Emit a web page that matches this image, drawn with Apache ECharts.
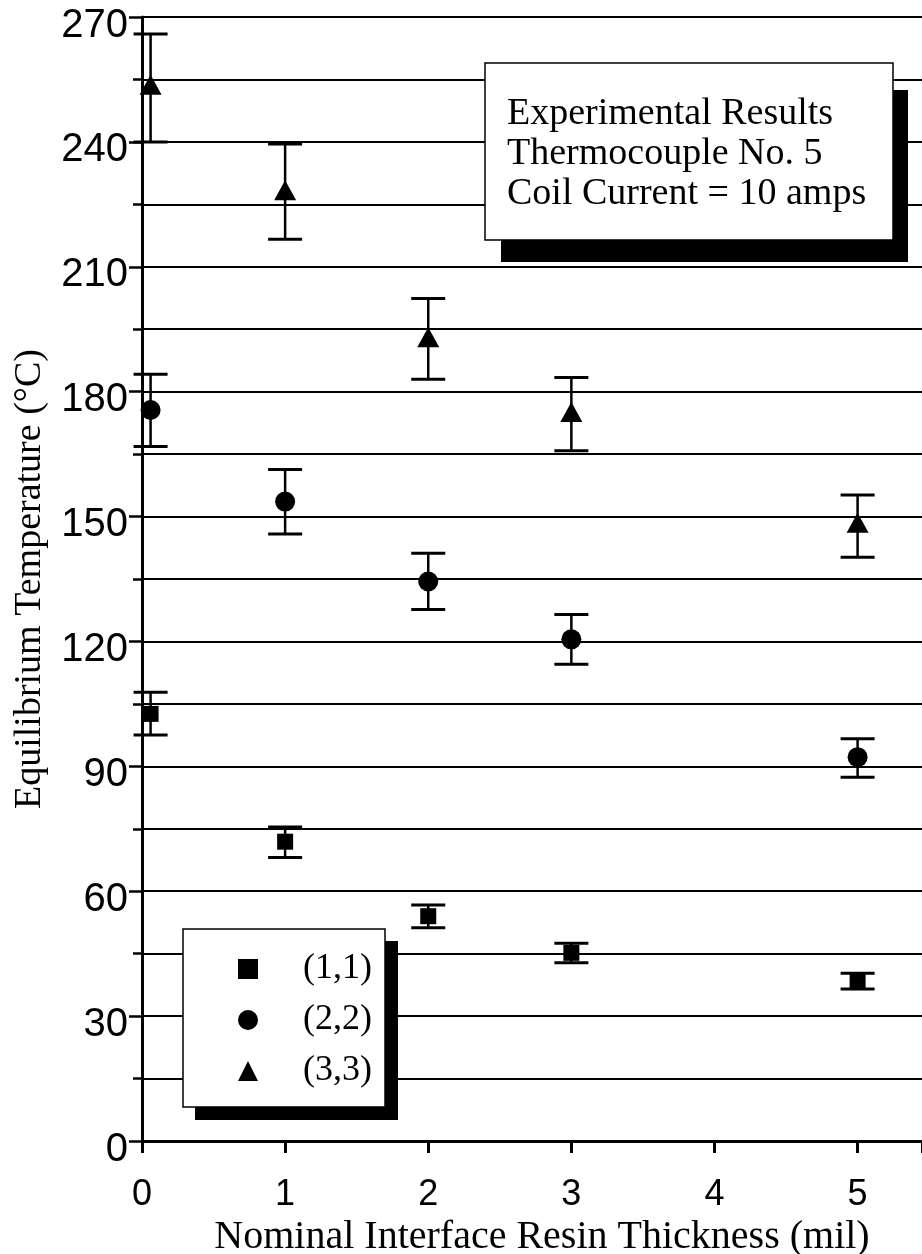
<!DOCTYPE html>
<html>
<head>
<meta charset="utf-8">
<script src="https://cdn.jsdelivr.net/npm/echarts@6/dist/echarts.min.js"></script>
<style>
  html, body { margin: 0; padding: 0; background: #fff; }
  #chart { width: 922px; height: 1254px; }
</style>
</head>
<body>
<div id="chart"></div>
<script>
// resin thickness (mil) - first points sit just right of zero
const thickness = [0.06, 1, 2, 3, 5]

// (1,1) squares
const sqMean = [102.6, 71.9, 54.0, 45.2, 38.4]
const sqLow  = [97.5, 68.1, 51.2, 42.8, 36.5]
const sqHigh = [107.8, 75.4, 56.7, 47.5, 40.3]

// (2,2) circles
const ciMean = [175.6, 153.6, 134.4, 120.5, 92.2]
const ciLow  = [166.8, 145.8, 127.7, 114.5, 87.4]
const ciHigh = [184.2, 161.3, 141.2, 126.5, 96.6]

// (3,3) triangles
const trMean = [253.7, 228.4, 193.1, 175.1, 148.5]
const trLow  = [240.0, 216.6, 183.0, 165.8, 140.2]
const trHigh = [265.9, 239.5, 202.4, 183.4, 155.2]

const xTicks = [0, 1, 2, 3, 4, 5]
const yTicks = [0, 30, 60, 90, 120, 150, 180, 210, 240, 270]

const serif = '"Liberation Serif", "Times New Roman", serif'
const sans = '"Liberation Sans", Arial, Helvetica, sans-serif'

const pts = (ys) => thickness.map((x, i) => [x, ys[i]])
const bars = (lo, hi) => thickness.map((x, i) => [x, lo[i], hi[i]])

const errorBar = (name, lo, hi) => ({
  name: name,
  type: 'custom',
  silent: true,
  data: bars(lo, hi),
  encode: { x: 0, y: [1, 2] },
  renderItem: (params, api) => {
    const top = api.coord([api.value(0), api.value(2)])
    const bot = api.coord([api.value(0), api.value(1)])
    const half = 17
    const st = { stroke: '#000', lineWidth: 3 }
    return {
      type: 'group',
      children: [
        { type: 'line', shape: { x1: top[0], y1: top[1], x2: bot[0], y2: bot[1] }, style: { stroke: '#000', lineWidth: 2.5 } },
        { type: 'line', shape: { x1: top[0] - half, y1: top[1], x2: top[0] + half, y2: top[1] }, style: st },
        { type: 'line', shape: { x1: bot[0] - half, y1: bot[1], x2: bot[0] + half, y2: bot[1] }, style: st }
      ]
    }
  },
  z: 3
})

// box with a hard drop shadow
const shadowBox = (x, y, w, h, dx1, dy1, dx2, dy2) => [
  { type: 'rect', z: 10, silent: true, shape: { x: x + dx1, y: y + dy1, width: w - dx1 + dx2, height: h - dy1 + dy2 }, style: { fill: '#000' } },
  { type: 'rect', z: 11, silent: true, shape: { x: x, y: y, width: w, height: h }, style: { fill: '#fff', stroke: '#000', lineWidth: 1.5 } }
]

let mychart = echarts.init(document.getElementById('chart'))
mychart.setOption({
  animation: false,
  backgroundColor: '#fff',
  color: ['#000'],
  grid: { left: 142, right: 0, top: 17, bottom: 113, containLabel: false, outerBoundsMode: 'none' },
  graphic: [
    ...shadowBox(485, 63, 408, 177, 16, 27, 15, 22),
    ...shadowBox(183, 929, 202, 178, 12, 12, 13, 13)
  ],
  title: {
    text: 'Experimental Results\nThermocouple No. 5\nCoil Current = 10 amps',
    left: 507,
    top: 94,
    padding: 0,
    z: 20,
    textStyle: { fontFamily: serif, fontSize: 38, fontWeight: 'normal', color: '#000', lineHeight: 40 }
  },
  legend: {
    orient: 'vertical',
    left: 183,
    top: 951,
    z: 20,
    padding: [0, 13, 0, 55],
    itemWidth: 20,
    itemHeight: 20,
    itemGap: 15,
    data: [
      { name: '(1,1)', icon: 'rect' },
      { name: '(2,2)', icon: 'circle' },
      { name: '(3,3)', icon: 'triangle' }
    ],
    textStyle: { fontFamily: serif, fontSize: 36, color: '#000', lineHeight: 20, padding: [0, 0, 0, 40] }
  },
  xAxis: {
    type: 'value',
    min: 0,
    max: 5.45,
    interval: 1,
    name: 'Nominal Interface Resin Thickness (mil)',
    nameLocation: 'middle',
    nameGap: 67,
    nameTextStyle: { fontFamily: serif, fontSize: 40, color: '#000', padding: [0, 0, 0, 20] },
    axisLine: { show: true, lineStyle: { color: '#000', width: 3 } },
    axisTick: { show: true, inside: false, length: 12, lineStyle: { color: '#000', width: 3 } },
    axisLabel: {
      fontFamily: sans, fontSize: 36, color: '#000', margin: 36,
      formatter: (v) => (xTicks.indexOf(v) >= 0 ? String(v) : '')
    },
    splitLine: { show: false }
  },
  yAxis: {
    type: 'value',
    min: 0,
    max: 270,
    interval: 30,
    name: 'Equilibrium Temperature (°C)',
    nameLocation: 'middle',
    nameGap: 93,
    nameTextStyle: { fontFamily: serif, fontSize: 38, color: '#000' },
    axisLine: { show: true, lineStyle: { color: '#000', width: 3 } },
    axisTick: { show: true, inside: false, length: 13, lineStyle: { color: '#000', width: 2.5 } },
    minorTick: { show: true, splitNumber: 2, length: 9, lineStyle: { color: '#000', width: 2.5 } },
    axisLabel: {
      fontFamily: sans, fontSize: 40, color: '#000', margin: 14,
      verticalAlign: 'top', lineHeight: 17,
      formatter: (v) => (yTicks.indexOf(v) >= 0 ? String(v) : '')
    },
    splitLine: { show: true, lineStyle: { color: '#000', width: 2 } },
    minorSplitLine: { show: true, lineStyle: { color: '#000', width: 2 } }
  },
  series: [
    errorBar('(1,1)', sqLow, sqHigh),
    errorBar('(2,2)', ciLow, ciHigh),
    errorBar('(3,3)', trLow, trHigh),
    { name: '(1,1)', type: 'scatter', symbol: 'rect', symbolSize: 16, data: pts(sqMean), itemStyle: { color: '#000', opacity: 1 }, z: 4 },
    { name: '(2,2)', type: 'scatter', symbol: 'circle', symbolSize: 20, data: pts(ciMean), itemStyle: { color: '#000', opacity: 1 }, z: 4 },
    { name: '(3,3)', type: 'scatter', symbol: 'triangle', symbolSize: [22, 20], data: pts(trMean), itemStyle: { color: '#000', opacity: 1 }, z: 4 }
  ]
})
</script>
</body>
</html>
